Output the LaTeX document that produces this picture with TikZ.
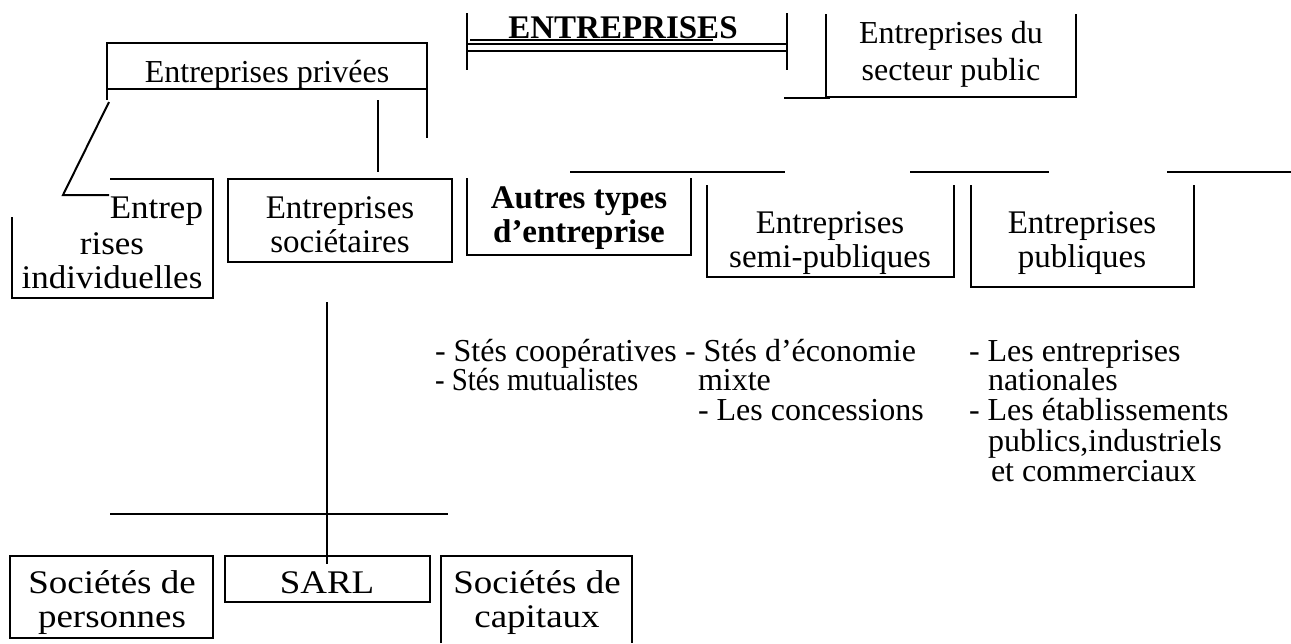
\documentclass[tikz,border=0pt]{standalone}
\usepackage{fontspec}
\setmainfont{Liberation Serif}
\newfontfamily\widefont[FakeStretch=1.12]{Liberation Serif}
\newfontfamily\midfont[FakeStretch=1.06]{Liberation Serif}
\begin{document}
\begin{tikzpicture}[x=1pt,y=-1pt,line width=2pt,
  txt/.style={font=\fontsize{33}{36}\selectfont,inner sep=0pt,anchor=base},
  stxt/.style={txt,font=\fontsize{32}{35}\selectfont},
  wtxt/.style={txt,font=\widefont\fontsize{33}{36}\selectfont},
  mtxt/.style={txt,font=\midfont\fontsize{33}{36}\selectfont},
  txtl/.style={stxt,anchor=base west},
  btxt/.style={txt,font=\fontsize{33}{36}\selectfont\bfseries}]
\useasboundingbox (0,0) rectangle (1291,643);
% ENTREPRISES
\draw (467,13) -- (467,70);
\draw (787,13) -- (787,70);
\draw (467,44) -- (787,44);
\draw (467,51) -- (787,51);
\draw (470,40) -- (713,40);
\node[btxt] (ent) at (623,38) {ENTREPRISES};
% secteur public
\draw (784,98) -- (830,98);
\draw (826,14) -- (826,97) -- (1076,97) -- (1076,14);
\node[stxt] (pub1) at (951,43) {Entreprises du};
\node[stxt] (pub2) at (951,80) {secteur public};
% privees
\draw (107,100) -- (107,43) -- (427,43) -- (427,138);
\draw (107,89) -- (427,89);
\node[stxt] (priv) at (267,82) {Entreprises privées};
\draw (109,102) -- (63,195) -- (109,195);
\draw (378,100) -- (378,172);
% individuelles
\draw (110,179) -- (213,179) -- (213,298) -- (12,298) -- (12,217);
\node[mtxt,anchor=base east] (ind1) at (204,218) {Entrep};
\node[mtxt] (ind2) at (112,254) {rises};
\node[mtxt] (ind3) at (112,288) {individuelles};
% societaires
\draw (228,179) rectangle (452,262);
\node[txt] (soc1) at (340,218) {Entreprises};
\node[txt] (soc2) at (340,252) {sociétaires};
% row 2 top segments
\draw (570,172) -- (785,172);
\draw (910,172) -- (1049,172);
\draw (1167,172) -- (1291,172);
% autres
\draw (467,178) -- (467,255) -- (691,255) -- (691,178);
\node[btxt] (aut1) at (579,208) {Autres types};
\node[btxt] (aut2) at (579,242) {d’entreprise};
% semi
\draw (707,185) -- (707,277) -- (954,277) -- (954,185);
\node[txt] (semi1) at (830,233) {Entreprises};
\node[txt] (semi2) at (830,267) {semi-publiques};
% publiques
\draw (971,185) -- (971,287) -- (1194,287) -- (1194,185);
\node[txt] (pq1) at (1082,233) {Entreprises};
\node[txt] (pq2) at (1082,267) {publiques};
% lists
\node[txtl] (l1) at (434,361) {- Stés coopératives};
\node[txtl] (l2) at (684,361) {- Stés d’économie};
\node[txtl] (l3) at (968,361) {- Les entreprises};
\node[txtl] (l4) at (434,390) {\scalebox{0.9}[1]{- Stés mutualistes}};
\node[txtl] (l5) at (697,390) {mixte};
\node[txtl] (l6) at (987,390) {nationales};
\node[txtl] (l7) at (697,420) {- Les concessions};
\node[txtl] (l8) at (968,420) {- Les établissements};
\node[txtl] (l9) at (987,451) {publics,industriels};
\node[txtl] (l10) at (990,481) {et commerciaux};
% lower tree
\draw (327,302) -- (327,564);
\draw (110,514) -- (448,514);
\draw (10,556) rectangle (213,638);
\draw (225,556) rectangle (430,602);
\draw (441,643) -- (441,556) -- (632,556) -- (632,643);
\node[wtxt] (pers1) at (112,593) {Sociétés de};
\node[wtxt] (pers2) at (112,627) {personnes};
\node[wtxt] (sarl) at (327,593) {SARL};
\node[wtxt] (cap1) at (537,593) {Sociétés de};
\node[wtxt] (cap2) at (537,627) {capitaux};
\end{tikzpicture}
\end{document}
